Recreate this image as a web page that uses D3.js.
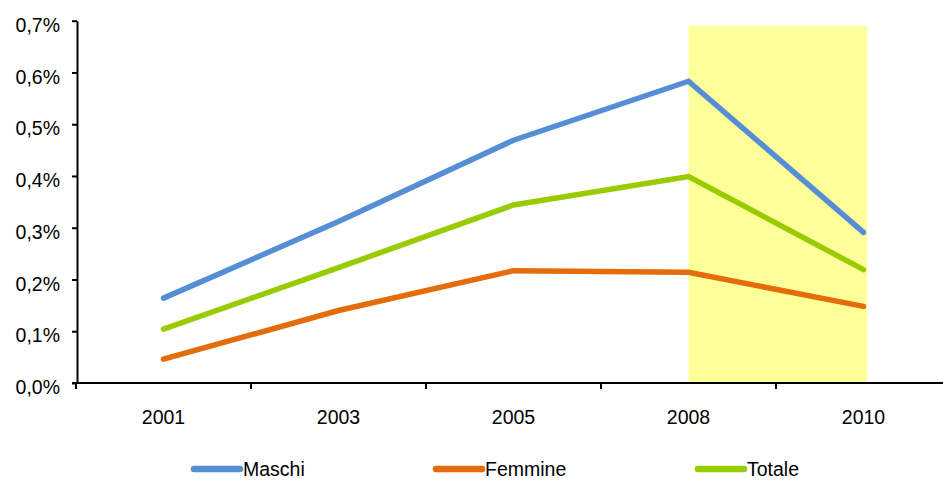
<!DOCTYPE html>
<html>
<head>
<meta charset="utf-8">
<script src="https://cdn.jsdelivr.net/npm/d3@7"></script>
<style>
  html, body { margin: 0; padding: 0; background: #fff; }
  svg { display: block; font-family: "Liberation Sans", Arial, sans-serif; }
</style>
</head>
<body>
<svg id="chart" width="943" height="480"></svg>
<script>
// Anni di rilevazione
const years = ["2001", "2003", "2005", "2008", "2010"];

// Quote percentuali per sesso (valori in frazione)
const maschi  = [0.00164, 0.00312, 0.00469, 0.00583, 0.00291];
const femmine = [0.00046, 0.00140, 0.00217, 0.00214, 0.00148];
const totale  = [0.00104, 0.00223, 0.00344, 0.00399, 0.00219];

const seriesNames  = ["Maschi", "Femmine", "Totale"];
const seriesColors = ["#558ED5", "#E46C0A", "#99CC00"];

// Tick dell'asse verticale
const yTicks = [0, 0.001, 0.002, 0.003, 0.004, 0.005, 0.006, 0.007];

// Periodo evidenziato
const highlightFrom = "2008";
const highlightTo   = "2010";
const highlightTop  = 0.0069;

const svg = d3.select("#chart");
const fontSize = 19.5;

const x = d3.scaleBand().domain(years).range([76, 951]).padding(0);
const y = d3.scaleLinear().domain([0, 0.007]).range([383, 20.7]);
const xc = d => x(d) + x.bandwidth() / 2;

const it = d3.formatLocale({ decimal: ",", thousands: ".", grouping: [3], currency: ["€", ""] });
const pct = it.format(".1%");

// Fascia evidenziata
svg.append("rect")
  .attr("x", xc(highlightFrom))
  .attr("y", y(highlightTop))
  .attr("width", xc(highlightTo) - xc(highlightFrom) + 3.5)
  .attr("height", y(0) - y(highlightTop))
  .attr("fill", "#FFFF99");

// Asse Y
const yAxis = svg.append("g")
  .attr("transform", `translate(${x.range()[0] + 1},0)`)
  .call(d3.axisLeft(y).tickValues(yTicks).tickFormat(pct).tickSize(5).tickPadding(12).tickSizeOuter(0));
yAxis.select(".domain").attr("stroke", "#000").attr("stroke-width", 2);
yAxis.selectAll(".tick line").attr("stroke", "#000").attr("stroke-width", 2);
yAxis.selectAll(".tick text")
  .attr("fill", "#000")
  .attr("font-size", fontSize)
  .attr("font-family", "Liberation Sans, Arial, sans-serif")
  .attr("dy", "0.55em");

// Asse X: etichette al centro delle categorie
const xAxis = svg.append("g")
  .attr("transform", `translate(0,${y(0)})`)
  .call(d3.axisBottom(x).tickSize(0).tickPadding(27));
xAxis.select(".domain").remove();
xAxis.selectAll(".tick text")
  .attr("fill", "#000")
  .attr("font-size", fontSize)
  .attr("font-family", "Liberation Sans, Arial, sans-serif");

// Linea dell'asse X e tacche tra le categorie
svg.append("line")
  .attr("x1", x.range()[0] - 4).attr("x2", 943)
  .attr("y1", y(0)).attr("y2", y(0))
  .attr("stroke", "#000").attr("stroke-width", 2);
svg.append("g").selectAll("line")
  .data(years)
  .join("line")
  .attr("x1", d => x(d)).attr("x2", d => x(d))
  .attr("y1", y(0)).attr("y2", y(0) + 6)
  .attr("stroke", "#000").attr("stroke-width", 2);

// Serie
const allSeries = [maschi, femmine, totale];
const line = d3.line().x((d, i) => xc(years[i])).y(d => y(d));

svg.append("g").selectAll("path")
  .data(allSeries)
  .join("path")
  .attr("d", d => line(d))
  .attr("fill", "none")
  .attr("stroke", (d, i) => seriesColors[i])
  .attr("stroke-width", 5.5)
  .attr("stroke-linecap", "round")
  .attr("stroke-linejoin", "miter");

// Legenda
const legendX = [194, 436, 698];
const legend = svg.append("g").selectAll("g")
  .data(seriesNames)
  .join("g")
  .attr("transform", (d, i) => `translate(${legendX[i]},469)`);
legend.append("line")
  .attr("x1", 0).attr("x2", 46)
  .attr("y1", 0).attr("y2", 0)
  .attr("stroke", (d, i) => seriesColors[i])
  .attr("stroke-width", 6.5)
  .attr("stroke-linecap", "round");
legend.append("text")
  .attr("x", 49)
  .attr("y", 0)
  .attr("dy", "0.36em")
  .attr("font-size", fontSize)
  .attr("fill", "#000")
  .text(d => d);
</script>
</body>
</html>
